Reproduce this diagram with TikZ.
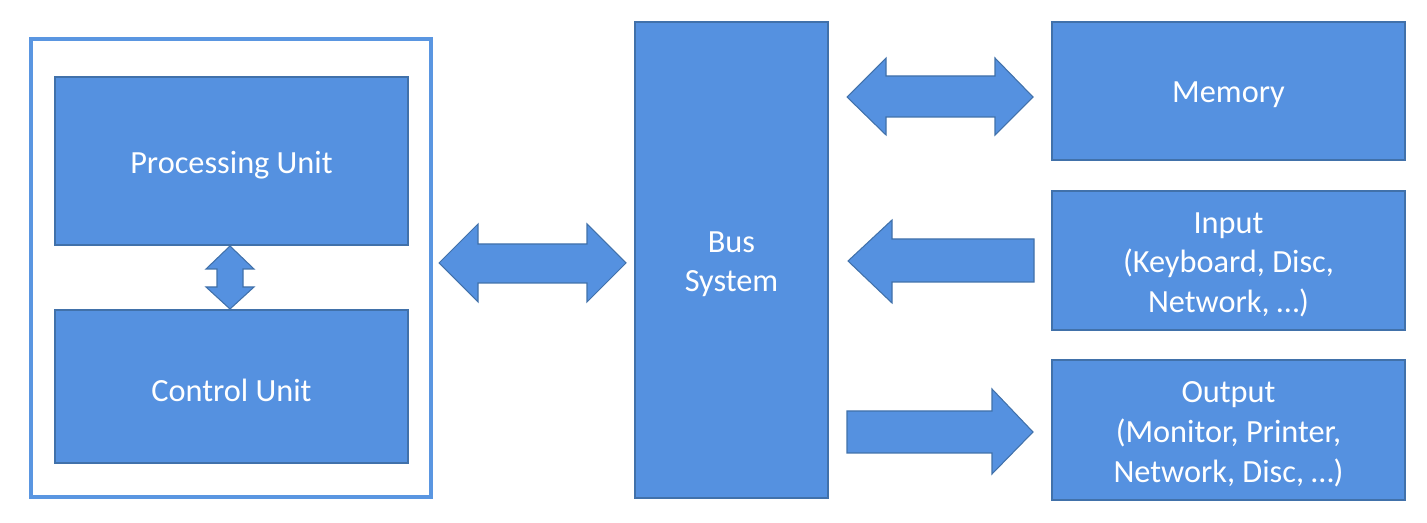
\documentclass[tikz,border=0pt]{standalone}
\usepackage{fontspec}
\setmainfont{Carlito}
\usetikzlibrary{fit}
\definecolor{boxfill}{RGB}{85,145,224}
\definecolor{boxline}{RGB}{65,113,170}
\definecolor{framecol}{RGB}{90,150,225}
\begin{document}
\begin{tikzpicture}[x=0.02cm,y=-0.02cm,
  box/.style={fill=boxfill,draw=boxline,line width=0.6pt,inner sep=0pt},
  boxtext/.style={text=white,align=center,inner sep=0pt,font=\fontsize{18.4}{22.6}\selectfont},
  framebox/.style={draw=framecol,line width=2.8pt,inner sep=0pt},
  fat/.style={fill=boxfill,draw=boxline,line width=0.6pt,line join=miter}]
\useasboundingbox (0,0) rectangle (1427,523);
\node[framebox, fit={(31,39)(431,497)}] (cpu) {};
\node[box, fit={(55,77)(408,245)}] (pu) {};
\node[boxtext] at ([yshift=-2.4pt]pu.center) {Processing Unit};
\node[box, fit={(55,310)(408,463)}] (cu) {};
\node[boxtext] at ([yshift=-2.4pt]cu.center) {Control Unit};
\node[box, fit={(635,22)(828,498)}] (bus) {};
\node[boxtext] at ([yshift=-2.4pt]bus.center) {Bus\\System};
\node[box, fit={(1052,22)(1405,160)}] (mem) {};
\node[boxtext] at ([yshift=-2.4pt]mem.center) {Memory};
\node[box, fit={(1052,191)(1405,330)}] (in) {};
\node[boxtext] at ([yshift=-2.4pt]in.center) {Input\\(Keyboard, Disc,\\Network, …)};
\node[box, fit={(1052,360)(1405,500)}] (out) {};
\node[boxtext] at ([yshift=-2.4pt]out.center) {Output\\(Monitor, Printer,\\Network, Disc, …)};
% PU <-> CU
\draw[fat] (230,246) -- (254,269) -- (243,269) -- (243,287) -- (254,287) -- (230,309) -- (206,287) -- (217,287) -- (217,269) -- (206,269) -- cycle;
% CPU <-> Bus
\draw[fat] (439,263) -- (478,224) -- (478,244) -- (587,244) -- (587,224) -- (626,263) -- (587,302) -- (587,283) -- (478,283) -- (478,302) -- cycle;
% Bus <-> Memory
\draw[fat] (847,97) -- (886,58) -- (886,76) -- (995,76) -- (995,58) -- (1033,97) -- (995,135) -- (995,117) -- (886,117) -- (886,135) -- cycle;
% Input -> Bus
\draw[fat] (848,261) -- (892,220) -- (892,239) -- (1034,239) -- (1034,282) -- (892,282) -- (892,303) -- cycle;
% Bus -> Output
\draw[fat] (847,411) -- (992,411) -- (992,389) -- (1033,432) -- (992,474) -- (992,453) -- (847,453) -- cycle;
\end{tikzpicture}
\end{document}
